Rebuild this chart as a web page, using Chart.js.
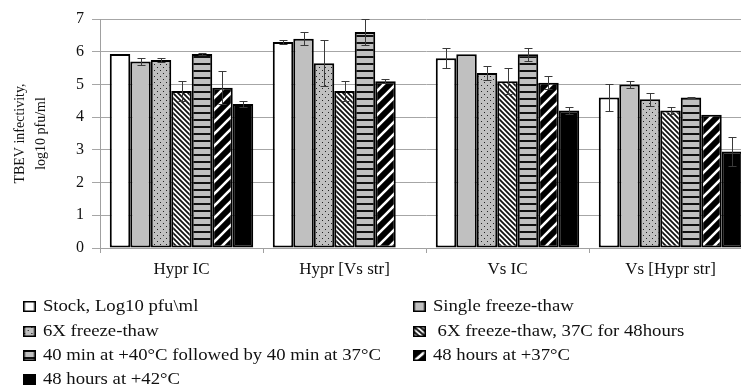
<!DOCTYPE html>
<html>
<head>
<meta charset="utf-8">
<script src="https://cdn.jsdelivr.net/npm/chart.js@4.4.1/dist/chart.umd.min.js"></script>
<style>
  html, body { margin: 0; padding: 0; background: #fff; }
  body { width: 741px; height: 389px; overflow: hidden; position: relative; font-family: "Liberation Serif", "Times New Roman", serif; }
  #wrap { position: absolute; left: 0; top: 0; width: 760px; height: 290px; }
  #legend { position: absolute; left: 0; top: 0; width: 741px; height: 389px; }
  .item { position: absolute; display: flex; align-items: center; font-size: 16px; color: #111; white-space: nowrap; transform: scaleX(1.17); transform-origin: left center; height: 20px; }
  .item canvas { display: block; margin-right: 6px; }
</style>
</head>
<body>
<div id="wrap"><canvas id="chart" width="760" height="290"></canvas></div>
<div id="legend"></div>
<script>
const categories = ["Hypr IC", "Hypr [Vs str]", "Vs IC", "Vs [Hypr str]"];
const seriesNames = [
  "Stock, Log10 pfu\\ml",
  "Single freeze-thaw",
  "6X freeze-thaw",
  " 6X freeze-thaw, 37C for 48hours",
  "40 min at +40°C followed by 40 min at 37°C",
  "48 hours at +37°C",
  "48 hours at +42°C"
];

const stockValues = [5.93, 6.3, 5.8, 4.6];
const stockErrors = [0, 0.07, 0.3, 0.4];
const singleValues = [5.7, 6.4, 5.92, 5.0];
const singleErrors = [0.1, 0.2, 0, 0.1];
const sixXValues = [5.75, 5.65, 5.35, 4.55];
const sixXErrors = [0.07, 0.7, 0.2, 0.2];
const sixX37Values = [4.8, 4.8, 5.1, 4.2];
const sixX37Errors = [0.3, 0.3, 0.4, 0.1];
const fortyMinValues = [5.93, 6.6, 5.92, 4.6];
const fortyMinErrors = [0.02, 0.4, 0.2, 0.03];
const h37Values = [4.9, 5.1, 5.05, 4.07];
const h37Errors = [0.5, 0.07, 0.2, 0];
const h42Values = [4.4, 0, 4.2, 2.95];
const h42Errors = [0.1, 0, 0.1, 0.45];

const yTicks = [0, 1, 2, 3, 4, 5, 6, 7];

const GRAY = "#c0c0c0";

function makePattern(kind) {
  const c = document.createElement("canvas");
  const g = c.getContext("2d");
  if (kind === "white") {
    c.width = c.height = 4;
    g.fillStyle = "#fff"; g.fillRect(0, 0, 4, 4);
  } else if (kind === "gray") {
    c.width = c.height = 4;
    g.fillStyle = GRAY; g.fillRect(0, 0, 4, 4);
  } else if (kind === "dots") {
    c.width = c.height = 6;
    g.fillStyle = GRAY; g.fillRect(0, 0, 6, 6);
    g.fillStyle = "#222";
    g.fillRect(1, 1, 1, 1);
    g.fillRect(4, 4, 1, 1);
  } else if (kind === "diagDown") {
    c.width = c.height = 5;
    g.fillStyle = "#fff"; g.fillRect(0, 0, 5, 5);
    g.strokeStyle = "#111"; g.lineWidth = 1.8;
    g.beginPath();
    g.moveTo(-1, -1); g.lineTo(6, 6);
    g.moveTo(-1, 4); g.lineTo(1, 6);
    g.moveTo(4, -1); g.lineTo(6, 1);
    g.stroke();
  } else if (kind === "hLines") {
    c.width = c.height = 7;
    g.fillStyle = GRAY; g.fillRect(0, 0, 7, 7);
    g.fillStyle = "#111"; g.fillRect(0, 0, 7, 2);
  } else if (kind === "wideUp") {
    c.width = c.height = 12;
    g.fillStyle = "#000"; g.fillRect(0, 0, 12, 12);
    g.strokeStyle = "#fff"; g.lineWidth = 2.6;
    g.beginPath();
    g.moveTo(-1, 13); g.lineTo(13, -1);
    g.moveTo(-1, 1); g.lineTo(1, -1);
    g.moveTo(11, 13); g.lineTo(13, 11);
    g.stroke();
  } else {
    c.width = c.height = 4;
    g.fillStyle = "#000"; g.fillRect(0, 0, 4, 4);
  }
  return g.createPattern(c, "repeat");
}

const kinds = ["white", "gray", "dots", "diagDown", "hLines", "wideUp", "black"];
const values = [stockValues, singleValues, sixXValues, sixX37Values, fortyMinValues, h37Values, h42Values];
const errors = [stockErrors, singleErrors, sixXErrors, sixX37Errors, fortyMinErrors, h37Errors, h42Errors];

const datasets = values.map((data, i) => ({
  label: seriesNames[i],
  data: data,
  errors: errors[i],
  backgroundColor: makePattern(kinds[i]),
  borderColor: "#000",
  borderWidth: 2,
  borderSkipped: false,
  categoryPercentage: 0.88,
  barPercentage: 1.0
}));

const errorBars = {
  id: "errorBars",
  afterDatasetsDraw(chart) {
    const ctx = chart.ctx;
    const y = chart.scales.y;
    ctx.save();
    ctx.strokeStyle = "#3a3a3a";
    ctx.lineWidth = 1;
    chart.data.datasets.forEach((ds, di) => {
      const meta = chart.getDatasetMeta(di);
      meta.data.forEach((bar, i) => {
        const err = ds.errors[i];
        if (!err) return;
        const x = Math.round(bar.x) + 0.5;
        const top = Math.round(y.getPixelForValue(ds.data[i] + err)) + 0.5;
        const bot = Math.round(y.getPixelForValue(ds.data[i] - err)) + 0.5;
        ctx.beginPath();
        ctx.moveTo(x, top); ctx.lineTo(x, bot);
        ctx.moveTo(x - 4, top); ctx.lineTo(x + 4, top);
        ctx.moveTo(x - 4, bot); ctx.lineTo(x + 4, bot);
        ctx.stroke();
      });
    });
    ctx.restore();
  }
};

new Chart(document.getElementById("chart"), {
  type: "bar",
  data: { labels: categories, datasets: datasets },
  plugins: [errorBars],
  options: {
    responsive: false,
    animation: false,
    layout: { padding: { top: 19, right: 8, left: 0, bottom: 0 } },
    plugins: { legend: { display: false }, tooltip: { enabled: false } },
    scales: {
      x: {
        ticks: { color: "#111", font: { family: "Liberation Serif", size: 17 }, padding: 6 },
        grid: { offset: true, drawOnChartArea: false, drawTicks: true, tickLength: 5, color: "#a0a0a0" },
        border: { display: true, color: "#a0a0a0" },
        afterFit: (s) => { s.height = 42; }
      },
      y: {
        min: 0,
        max: 7,
        afterBuildTicks: (s) => { s.ticks = yTicks.map((v) => ({ value: v })); },
        ticks: { color: "#111", font: { family: "Liberation Serif", size: 16 }, padding: 8 },
        grid: { color: "#a6a6a6", drawTicks: true, tickLength: 8 },
        border: { display: true, color: "#a0a0a0" },
        title: {
          display: true,
          text: ["TBEV infectivity,", "log10 pfu/ml"],
          color: "#111",
          font: { family: "Liberation Serif", size: 14, lineHeight: 1.55 },
          padding: { top: 9, bottom: 0 }
        },
        afterFit: (s) => { s.width = 100; }
      }
    }
  }
});

// legend laid out in two columns like the original
const legendPos = [
  [23, 306], [413, 306],
  [23, 331], [413, 331],
  [23, 355], [413, 355],
  [23, 379]
];
const legend = document.getElementById("legend");
seriesNames.forEach((name, i) => {
  const item = document.createElement("div");
  item.className = "item";
  item.style.left = legendPos[i][0] + "px";
  item.style.top = (legendPos[i][1] - 10) + "px";
  const sw = document.createElement("canvas");
  sw.width = 11; sw.height = 11;
  const g = sw.getContext("2d");
  g.fillStyle = makePattern(kinds[i]);
  g.fillRect(0, 0, 11, 11);
  g.strokeStyle = "#000"; g.lineWidth = 1.5;
  g.strokeRect(0.75, 0.75, 9.5, 9.5);
  item.appendChild(sw);
  const span = document.createElement("span");
  span.textContent = name;
  span.style.whiteSpace = "pre";
  item.appendChild(span);
  legend.appendChild(item);
});
</script>
</body>
</html>
